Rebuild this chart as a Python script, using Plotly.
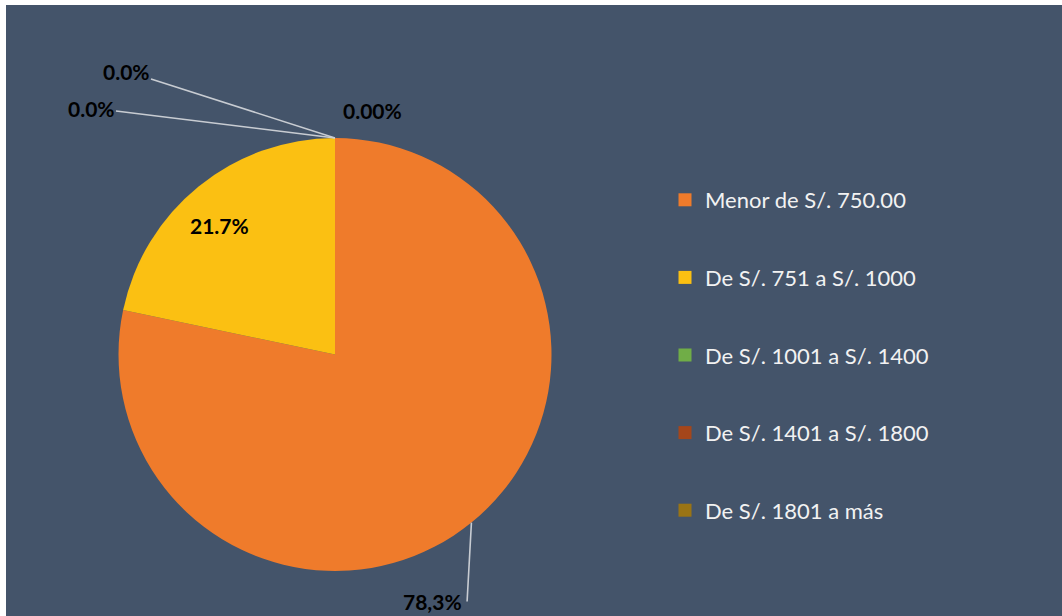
import math
import plotly.graph_objects as go

categories = ["Menor de S/. 750.00", "De S/. 751 a S/. 1000", "De S/. 1001 a S/. 1400",
              "De S/. 1401 a S/. 1800", "De S/. 1801 a más"]
values = [78.3, 21.7, 0.0, 0.0, 0.0]
value_labels = ["78,3%", "21.7%", "0.00%", "0.0%", "0.0%"]
colors = ["#EF7B2B", "#FBC012", "#70AD47", "#A5461A", "#9A7414"]

W, H = 1062, 616
CX, CY, R = 335, 354.5, 216.5   # pie centre / radius in pixels
PANEL = "#44546A"
LINE = "#C8CCD2"

def px(x):
    return x / W

def py(y):
    return 1 - y / H

def edge(frac, rr=R):
    a = 2 * math.pi * frac
    return CX + rr * math.sin(a), CY - rr * math.cos(a)

fig = go.Figure()
fig.add_trace(go.Pie(
    labels=categories, values=values, sort=False, direction="clockwise", rotation=0,
    marker=dict(colors=colors, line=dict(width=0)), textinfo="none", hoverinfo="label+percent",
    showlegend=False,
    domain=dict(x=[px(CX - R), px(CX + R)], y=[py(CY + R), py(CY - R)]),
))

for c, col in zip(categories, colors):
    fig.add_trace(go.Scatter(x=[None], y=[None], mode="markers", name=c, legendgroup=c,
                             marker=dict(symbol="square", size=13, color=col)))

total = sum(values)
cum = []
s = 0
for v in values:
    cum.append((s + v / 2) / total)
    s += v

ann = []
lab_font = dict(family="Lato", size=21, color="#000000")
common = dict(xref="paper", yref="paper", xanchor="center", yanchor="middle")
# 78,3% : leader line from slice middle straight down
x0, y0 = edge(cum[0])
ann.append(dict(x=px(x0), y=py(y0), text="", showarrow=True,
                arrowhead=0, arrowwidth=1.6, arrowcolor=LINE, ax=467 - x0, ay=603 - y0,
                standoff=0, **common))
ann.append(dict(x=px(432), y=py(601), text="<b>%s</b>" % value_labels[0],
                showarrow=False, font=lab_font, **common))
# 21.7% inside the yellow slice
ann.append(dict(x=px(219), y=py(225), text="<b>%s</b>" % value_labels[1],
                showarrow=False, font=lab_font, **common))
# zero slices (at top of pie)
xt, yt = edge(cum[2])
ann.append(dict(x=px(372), y=py(110), text="<b>%s</b>" % value_labels[2],
                showarrow=False, font=lab_font, **common))
for lbl, (tx, ty) in zip(value_labels[3:], [(126, 71), (91, 108)]):
    ann.append(dict(x=px(xt), y=py(yt), text="<b>%s</b>" % lbl,
                    showarrow=True, arrowhead=0, arrowwidth=1.6, arrowcolor=LINE,
                    ax=tx - xt, ay=ty - yt, standoff=0, font=lab_font, **common))

fig.update_layout(
    width=W, height=H, margin=dict(l=0, r=0, t=0, b=0),
    paper_bgcolor="white", plot_bgcolor="rgba(0,0,0,0)",
    xaxis=dict(visible=False, domain=[0.99, 1]), yaxis=dict(visible=False, domain=[0.99, 1]),
    shapes=[dict(type="rect", xref="paper", yref="paper", x0=px(6), x1=1, y0=0, y1=py(5),
                 fillcolor=PANEL, line=dict(width=0), layer="below")],
    legend=dict(x=px(665), y=py(179), xanchor="left", yanchor="top", bgcolor="rgba(0,0,0,0)",
                font=dict(family="Lato", size=22, color="#F2F2F2"), tracegroupgap=46,
                itemwidth=30, traceorder="grouped"),
    annotations=ann,
)
fig.write_html("out.html", config={"displayModeBar": False},
               post_script="document.body.style.margin='0';document.body.style.padding='0';")
